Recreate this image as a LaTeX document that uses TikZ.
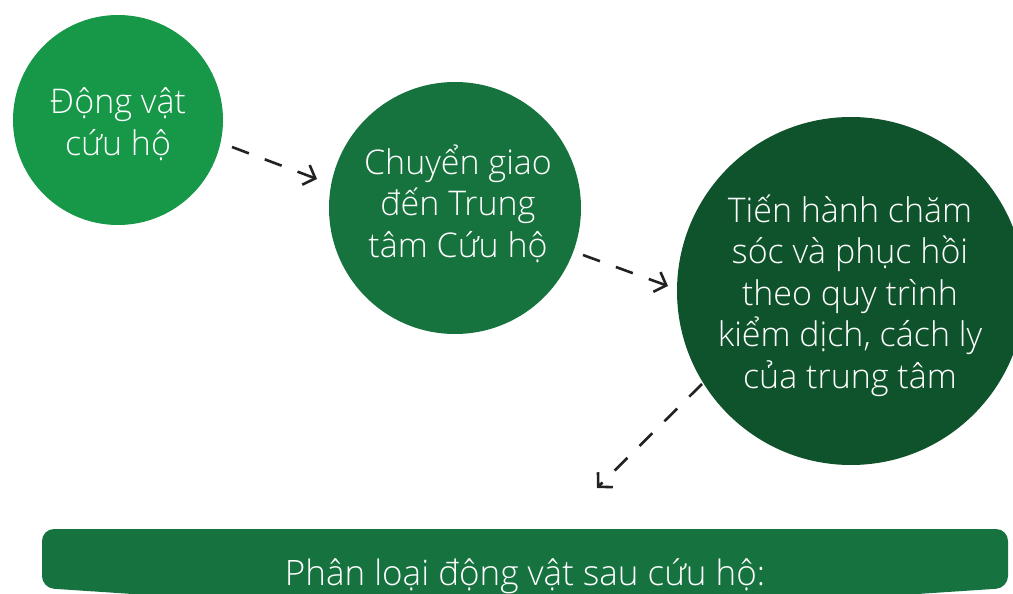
\documentclass[tikz,border=0pt]{standalone}
\usepackage{fontspec}
\setmainfont{Open Sans Light}
\usetikzlibrary{arrows.meta}
\definecolor{cOne}{HTML}{179848}
\definecolor{cTwo}{HTML}{16733E}
\definecolor{cThree}{HTML}{0F532C}
\definecolor{cBanner}{HTML}{16723F}
\definecolor{cArrow}{HTML}{222222}
\tikzset{
  bubble/.style={circle, inner sep=0pt, text=white, align=center,
    font=\fontsize{34}{41.5}\selectfont},
  flow/.style={draw=cArrow, line width=2.6pt, dash pattern=on 18pt off 17pt,
    -{Straight Barb[length=10pt,width=21pt]}},
  bannertext/.style={text=white, font=\fontsize{35}{40}\selectfont, inner sep=0pt}
}
\begin{document}
\begin{tikzpicture}[x=1pt,y=-1pt]
\useasboundingbox (0,0) rectangle (1013,594);
\clip (0,0) rectangle (1013,594);
\fill[white] (0,0) rectangle (1013,594);

\node[bubble, fill=cOne, minimum size=210pt] (c1) at (118,120) {};
\node[bubble, fill=cTwo, minimum size=252pt] (c2) at (455,208) {};
\node[bubble, fill=cThree, minimum size=348pt] (c3) at (851,291) {};
\node[bubble, anchor=base] (t1) at (118,155) {Động vật\\cứu hộ};
\node[bubble, anchor=base] (t2) at (458,257) {Chuyển giao\\đến Trung\\tâm Cứu hộ};
\node[bubble, anchor=base] (t3) at (850,388) {Tiến hành chăm\\sóc và phục hồi\\theo quy trình\\kiểm dịch, cách ly\\của trung tâm};

\fill[cBanner, rounded corners=12pt] (42,529) -- (1008,529) -- (1008,588) -- (525,620) -- (42,588) -- cycle;
\node[bannertext, anchor=base] (banner) at (525,585) {Phân loại động vật sau cứu hộ:};

\coordinate (a1s) at (232,147);
\coordinate (a1e) at (317,179);
\coordinate (a2s) at (583,255);
\coordinate (a2e) at (668,286);
\coordinate (a3s) at (702,384);
\coordinate (a3e) at (597,488);
\draw[flow] (a1s) -- (a1e);
\draw[flow] (a2s) -- (a2e);
\draw[flow] (a3s) -- (a3e);
\end{tikzpicture}
\end{document}
